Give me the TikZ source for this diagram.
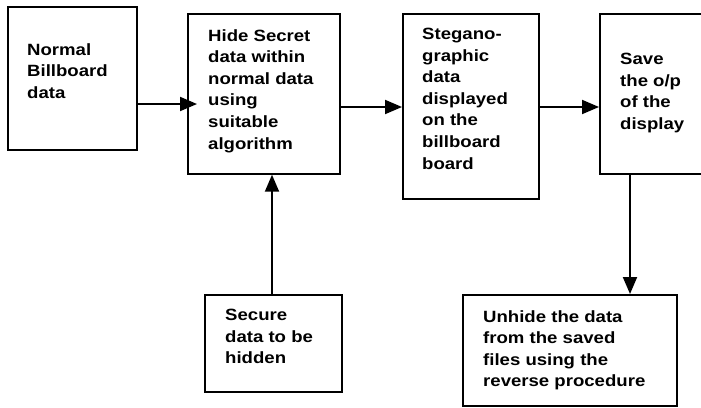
\documentclass[tikz,border=0pt]{standalone}
\usepackage{fontspec}
\setmainfont{Liberation Sans}[FakeStretch=1.14]
\usetikzlibrary{arrows.meta}
\begin{document}
\begin{tikzpicture}[x=1pt,y=-1pt,
  box/.style={draw,line width=1.7pt,inner sep=0pt,anchor=north west},
  txt/.style={anchor=north west,inner sep=0pt,align=left,font=\fontsize{16.3}{21.6}\selectfont\bfseries},
  arr/.style={line width=1.9pt,-{Triangle[length=17pt,width=14pt]}}]
\useasboundingbox (0,0) rectangle (701,407);
\node[box,minimum width=129pt,minimum height=143pt] (b1) at (7,6) {};
\node[box,minimum width=152pt,minimum height=160pt] (b2) at (187,13) {};
\node[box,minimum width=136pt,minimum height=185pt] (b3) at (402,13) {};
\node[box,minimum width=120pt,minimum height=160pt] (b4) at (599,13) {};
\node[box,minimum width=137pt,minimum height=97pt] (b6) at (204,294) {};
\node[box,minimum width=214pt,minimum height=111pt] (b5) at (462,294) {};
\node[txt] (t1) at (27,43) {Normal\\Billboard\\data};
\node[txt] (t2) at (208,29) {Hide Secret\\data within\\normal data\\using\\suitable\\algorithm};
\node[txt] (t3) at (422,28) {Stegano-\\graphic\\data\\displayed\\on the\\billboard\\board};
\node[txt] (t4) at (620,53) {Save\\the o/p\\of the\\display};
\node[txt] (t6) at (225,309) {Secure\\data to be\\hidden};
\node[txt] (t5) at (483,310) {Unhide the data\\from the saved\\files using the\\reverse procedure};
\draw[arr,shorten >=-10pt] (b1.east |- 0,104) -- (b2.west |- 0,104);
\draw[arr] (b2.east |- 0,107) -- (b3.west |- 0,107);
\draw[arr] (b3.east |- 0,107) -- (b4.west |- 0,107);
\draw[arr] (b6.north -| 272,0) -- (b2.south -| 272,0);
\draw[arr] (b4.south -| 630,0) -- (b5.north -| 630,0);
\end{tikzpicture}
\end{document}
